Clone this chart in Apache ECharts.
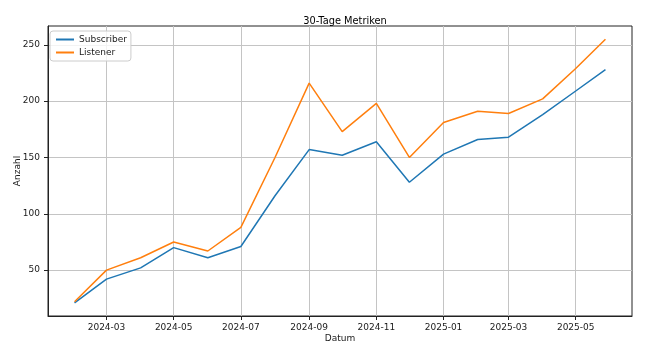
<!DOCTYPE html>
<html>
<head>
<meta charset="utf-8">
<script src="https://cdn.jsdelivr.net/npm/echarts@6/dist/echarts.min.js"></script>
<style>
  html, body { margin: 0; padding: 0; background: #fff; }
  #chart { width: 655px; height: 351px; }
</style>
</head>
<body>
<div id="chart"></div>
<script>
// monthly snapshots, last point is a partial month
const dates = [
  '2024-02-01', '2024-03-01', '2024-04-01', '2024-05-01', '2024-06-01', '2024-07-01',
  '2024-08-01', '2024-09-01', '2024-10-01', '2024-11-01', '2024-12-01', '2025-01-01',
  '2025-02-01', '2025-03-01', '2025-04-01', '2025-05-01', '2025-05-28'
];
const subscriber = [21, 42, 52, 70, 61, 71, 116, 157, 152, 164, 128, 153, 166, 168, 188, 209, 228];
const listener = [22, 50, 61, 75, 67, 88, 150, 216, 173, 198, 150, 181, 191, 189, 202, 229, 255];
const xTicks = ['2024-03-01', '2024-05-01', '2024-07-01', '2024-09-01', '2024-11-01',
  '2025-01-01', '2025-03-01', '2025-05-01'];
const yTicks = [50, 100, 150, 200, 250];

const ts = s => {
  const [y, m, d] = s.split('-').map(Number);
  return Date.UTC(y, m - 1, d);
};
const xs = dates.map(ts);

// matplotlib-like 5% margins
const xSpan = xs[xs.length - 1] - xs[0];
const xMin = xs[0] - 0.05 * xSpan;
const xMax = xs[xs.length - 1] + 0.05 * xSpan;
const allY = subscriber.concat(listener);
const yLo = Math.min(...allY), yHi = Math.max(...allY);
const yMin = yLo - 0.05 * (yHi - yLo);
const yMax = yHi + 0.05 * (yHi - yLo);

const font = 'DejaVu Sans';
const textColor = '#1a1a1a';
const gridColor = '#c4c4c4';

const chart = echarts.init(document.getElementById('chart'));
chart.setOption({
  animation: false,
  title: {
    text: '30-Tage Metriken',
    left: 340, top: 11, textAlign: 'center',
    textStyle: { fontFamily: font, fontSize: 9.8, fontWeight: 'normal', color: '#000' }
  },
  legend: {
    orient: 'vertical',
    left: 50, top: 31,
    padding: [3, 4, 3, 6],
    backgroundColor: 'rgba(255,255,255,0.8)',
    borderColor: '#cccccc', borderWidth: 1, borderRadius: 3,
    icon: 'rect', itemWidth: 18, itemHeight: 2, itemGap: 2,
    textStyle: { fontFamily: font, fontSize: 9, color: textColor, lineHeight: 11 },
    data: ['Subscriber', 'Listener']
  },
  grid: {
    left: 48, right: 23, top: 26, bottom: 35,
    outerBoundsMode: 'none',
    show: true, borderColor: '#222', borderWidth: 1, backgroundColor: 'transparent'
  },
  xAxis: {
    type: 'value',
    min: xMin, max: xMax,
    name: 'Datum', nameLocation: 'middle', nameGap: 18, nameMoveOverlap: false,
    nameTextStyle: { fontFamily: font, fontSize: 9, color: textColor },
    axisLine: { show: true, lineStyle: { color: '#222' } },
    axisTick: { show: true, length: 4, lineStyle: { color: '#222' }, customValues: xTicks.map(ts) },
    axisLabel: {
      fontFamily: font, fontSize: 9, color: textColor, margin: 7,
      customValues: xTicks.map(ts),
      formatter: v => {
        const d = new Date(v);
        return d.getUTCFullYear() + '-' + String(d.getUTCMonth() + 1).padStart(2, '0');
      }
    },
    splitLine: { show: true, lineStyle: { color: gridColor, width: 1 } }
  },
  yAxis: {
    type: 'value',
    min: yMin, max: yMax,
    name: 'Anzahl', nameLocation: 'middle', nameGap: 26, nameMoveOverlap: false,
    nameTextStyle: { fontFamily: font, fontSize: 9, color: textColor },
    axisLine: { show: true, lineStyle: { color: '#222' } },
    axisTick: { show: true, length: 4, lineStyle: { color: '#222' }, customValues: yTicks },
    axisLabel: { fontFamily: font, fontSize: 9, color: textColor, margin: 8, customValues: yTicks },
    splitLine: { show: true, lineStyle: { color: gridColor, width: 1 } }
  },
  series: [
    {
      name: 'Subscriber', type: 'line', showSymbol: false,
      color: '#1f77b4', lineStyle: { width: 1.5 },
      data: xs.map((x, i) => [x, subscriber[i]])
    },
    {
      name: 'Listener', type: 'line', showSymbol: false,
      color: '#ff7f0e', lineStyle: { width: 1.5 },
      data: xs.map((x, i) => [x, listener[i]])
    }
  ]
});
</script>
</body>
</html>
